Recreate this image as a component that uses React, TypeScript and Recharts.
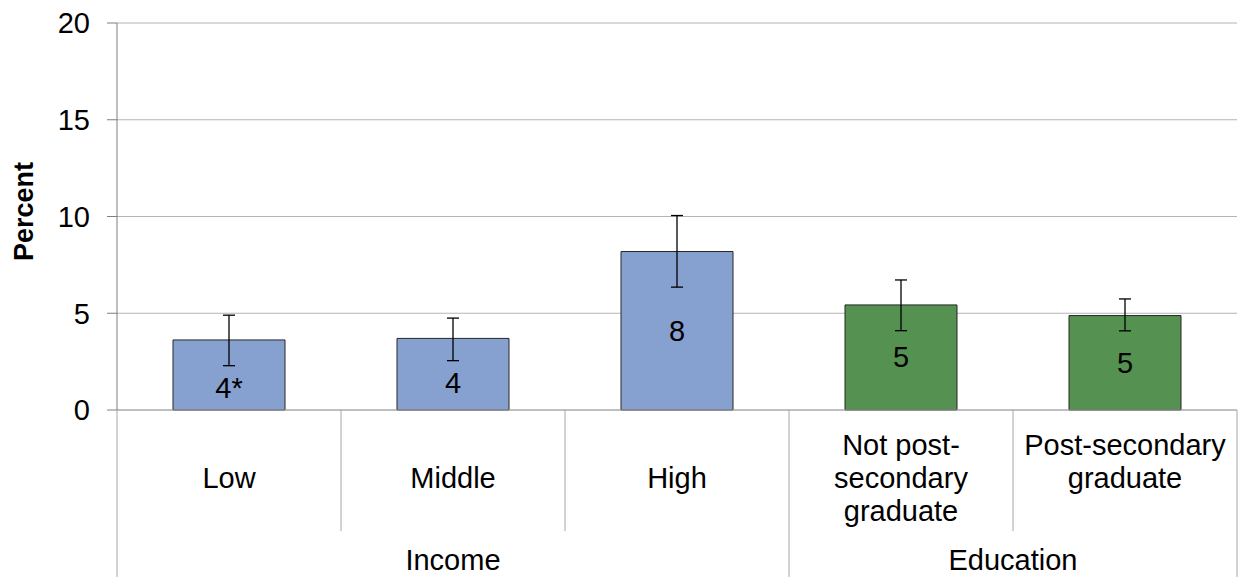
import React from "react";
import {
  BarChart,
  Bar,
  XAxis,
  YAxis,
  CartesianGrid,
  ErrorBar,
  LabelList,
  Cell,
} from "recharts";

// categories (line breaks as drawn under the axis) and their outer group
const categories = [
  "Low",
  "Middle",
  "High",
  "Not post-\nsecondary\ngraduate",
  "Post-secondary\ngraduate",
];
const groups = ["Income", "Income", "Income", "Education", "Education"];

// estimates with 95% confidence bounds, in percent
const values = [3.62, 3.7, 8.19, 5.43, 4.88];
const ciLow = [2.29, 2.55, 6.35, 4.1, 4.09];
const ciHigh = [4.9, 4.75, 10.05, 6.72, 5.74];
// significance flag appended to the rounded value
const flags = ["*", "", "", "", ""];

const yTicks = [0, 5, 10, 15, 20];

const groupColors: Record<string, string> = {
  Income: "#86A0D0",
  Education: "#559150",
};

const chartData = categories.map((name, i) => ({
  name,
  group: groups[i],
  value: values[i],
  err: [values[i] - ciLow[i], ciHigh[i] - values[i]],
  label: `${Math.round(values[i])}${flags[i]}`,
}));

const FONT = "'Liberation Sans', Arial, sans-serif";
const FONT_SIZE = 29;
const LINE_HEIGHT = 33;
const GRID = "#B4B4B4";
const SEP = "#A6A6A6";

// two-level category axis: category names, separators and group names
const CategoryTick = (props: any) => {
  const { x, y, payload, width } = props;
  const index: number = payload?.index ?? props.index ?? 0;
  const half: number =
    typeof payload?.offset === "number" && payload.offset > 0
      ? payload.offset
      : width / categories.length / 2;
  const lines = String(payload.value).split("\n");
  const firstBaseline = y + 78 - LINE_HEIGHT * Math.ceil((lines.length - 1) / 2);
  const innerBottom = y + 121;
  const outerBottom = y + 167;

  const isGroupStart = index === 0 || groups[index - 1] !== groups[index];
  const isLast = index === categories.length - 1;

  // group label at the middle of its run of categories
  let groupLabel = null;
  if (isGroupStart) {
    let n = 0;
    while (groups[index + n] === groups[index]) n++;
    const cx = x - half + n * half;
    groupLabel = (
      <text
        x={cx}
        y={y + 160}
        textAnchor="middle"
        fontFamily={FONT}
        fontSize={FONT_SIZE}
        fill="#000"
      >
        {groups[index]}
      </text>
    );
  }

  return (
    <g>
      <line
        x1={x - half}
        x2={x - half}
        y1={y}
        y2={isGroupStart ? outerBottom : innerBottom}
        stroke={SEP}
      />
      {isLast && (
        <line x1={x + half} x2={x + half} y1={y} y2={outerBottom} stroke={SEP} />
      )}
      <text textAnchor="middle" fontFamily={FONT} fontSize={FONT_SIZE} fill="#000">
        {lines.map((line, i) => (
          <tspan key={i} x={x} y={firstBaseline + i * LINE_HEIGHT}>
            {line}
          </tspan>
        ))}
      </text>
      {groupLabel}
    </g>
  );
};

// value label centred in the bar, pushed below the lower error cap if needed
const ValueLabel = (props: any) => {
  const vb = props.viewBox ?? props;
  const { x, y, width, height } = vb;
  const index: number = props.index ?? 0;
  const base = y + height;
  const pxPerUnit = height / values[index];
  const capY = base - ciLow[index] * pxPerUnit;
  const cy = Math.max(y + height / 2, capY + 22);
  return (
    <text
      x={x + width / 2}
      y={cy + 10}
      textAnchor="middle"
      fontFamily={FONT}
      fontSize={FONT_SIZE}
      fill="#000"
    >
      {props.value}
    </text>
  );
};

const PercentLabel = (props: any) => {
  const vb = props.viewBox;
  const lx = vb.x + 33;
  const ly = vb.y + vb.height / 2 - 5;
  return (
    <text
      x={lx}
      y={ly}
      transform={`rotate(-90, ${lx}, ${ly})`}
      textAnchor="middle"
      fontFamily={FONT}
      fontSize={27}
      fontWeight="bold"
      fill="#000"
    >
      Percent
    </text>
  );
};

export default function App() {
  return (
    <div style={{ position: "absolute", left: 0, top: 0, background: "#fff" }}>
      <BarChart
        width={1239}
        height={577}
        data={chartData}
        margin={{ top: 23, right: 2, bottom: 0, left: 0 }}
        barCategoryGap="25%"
      >
        <CartesianGrid vertical={false} stroke={GRID} />
        <XAxis
          dataKey="name"
          interval={0}
          height={167}
          tickLine={false}
          tickSize={0}
          tickMargin={0}
          axisLine={{ stroke: SEP }}
          tick={<CategoryTick />}
        />
        <YAxis
          domain={[0, 20]}
          ticks={yTicks}
          width={117}
          tickSize={10}
          tickMargin={17}
          axisLine={{ stroke: "#7F7F7F" }}
          tickLine={{ stroke: "#7F7F7F" }}
          tick={{ fontFamily: FONT, fontSize: FONT_SIZE, fill: "#000" }}
          label={<PercentLabel />}
        />
        <Bar
          dataKey="value"
          stroke="#262626"
          strokeWidth={1}
          isAnimationActive={false}
        >
          {chartData.map((d, i) => (
            <Cell key={i} fill={groupColors[d.group]} />
          ))}
          <ErrorBar
            dataKey="err"
            direction="y"
            width={6}
            stroke="#000"
            strokeWidth={1.3}
          />
          <LabelList dataKey="label" content={<ValueLabel />} />
        </Bar>
      </BarChart>
    </div>
  );
}
